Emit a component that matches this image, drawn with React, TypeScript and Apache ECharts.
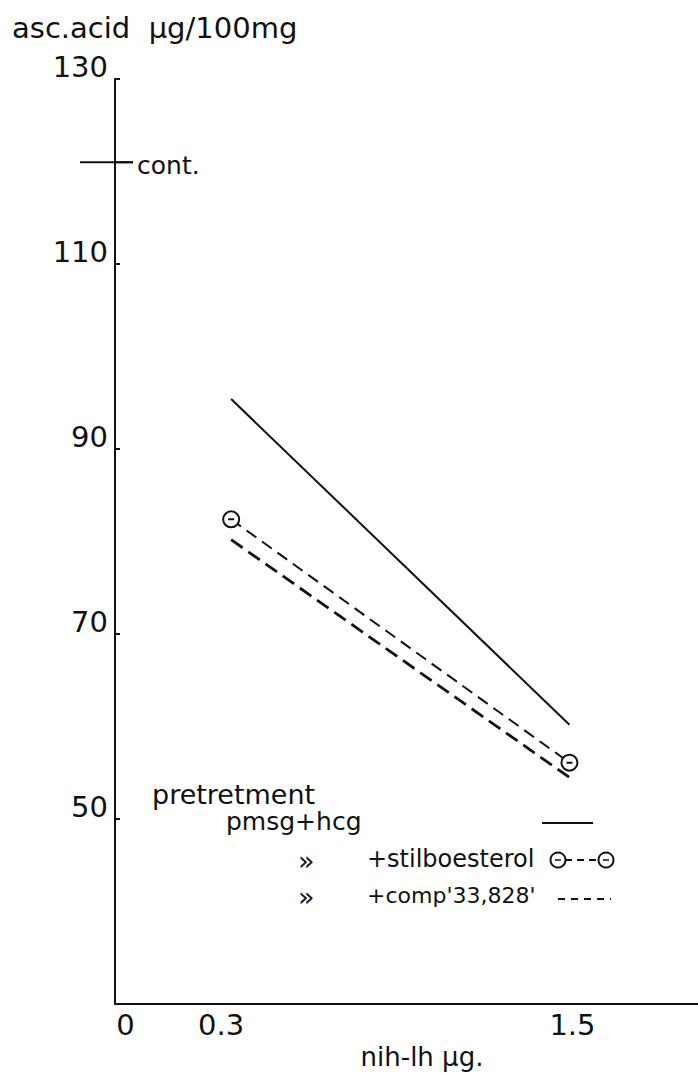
import React, { useEffect, useRef } from "react";
import * as echarts from "echarts";

// ---- data ----
const doses = [0.3, 1.5]; // nih-lh µg
const pmsgHcg = [95.4, 60.2];
const stilboesterol = [82.4, 56.1];
const comp33828 = [80.2, 54.5];
const controlLevel = 121;
const controlSpan = [-0.236, -0.048]; // short "cont." marker across the y axis

const yTicks = [50, 70, 90, 110, 130];
const xTicks = [0, 0.3, 1.5];
const xTickLabels = ["0", "0.3", "1.5"];
const xTickRich = ["z", "t", "f"];

const legendRows = {
  header: "pretretment",
  solid: "pmsg+hcg",
  ditto: "»",
  stilb: "+stilboesterol",
  comp: "+comp'33,828'",
};

const FONT = '"DejaVu Sans", sans-serif';
const INK = "#111";

const symbolPath = "path://M0,8A8,8 0 1 1 16,8A8,8 0 1 1 0,8ZM5,8L11,8";

export default function App() {
  const ref = useRef<HTMLDivElement>(null);
  useEffect(() => {
    if (!ref.current) return;
    const chart = echarts.init(ref.current, undefined, { renderer: "svg" });
    const pair = (vals: number[]) => doses.map((d, i) => [d, vals[i]]);
    const txt = (text: string, x: number, y: number, size: number) => ({
      type: "text",
      x,
      y,
      style: { text, fill: INK, font: `${size}px ${FONT}`, verticalAlign: "middle", align: "left" },
    });
    const legendGraphics: any[] = [
      txt(legendRows.header, 152, 794, 27),
      txt(legendRows.solid, 226, 821, 25),
      txt(legendRows.ditto, 298, 860, 27),
      txt(legendRows.stilb, 367, 859, 24),
      txt(legendRows.ditto, 298, 896, 27),
      txt(legendRows.comp, 367, 895, 22),
      { type: "line", shape: { x1: 542, y1: 823, x2: 593, y2: 823 }, style: { stroke: INK, lineWidth: 2 } },
      { type: "line", shape: { x1: 565, y1: 860, x2: 598, y2: 860 }, style: { stroke: INK, lineWidth: 2, lineDash: [7, 5] } },
      { type: "circle", shape: { cx: 558, cy: 860, r: 7.5 }, style: { fill: "#fff", stroke: INK, lineWidth: 2 } },
      { type: "line", shape: { x1: 555, y1: 860, x2: 561, y2: 860 }, style: { stroke: INK, lineWidth: 1.5 } },
      { type: "circle", shape: { cx: 606, cy: 860, r: 7.5 }, style: { fill: "#fff", stroke: INK, lineWidth: 2 } },
      { type: "line", shape: { x1: 603, y1: 860, x2: 609, y2: 860 }, style: { stroke: INK, lineWidth: 1.5 } },
      { type: "line", shape: { x1: 558, y1: 899, x2: 611, y2: 899 }, style: { stroke: INK, lineWidth: 2, lineDash: [7, 6] } },
    ];
    chart.setOption({
      animation: false,
      backgroundColor: "#fff",
      title: {
        text: "asc.acid  µg/100mg",
        left: 12,
        top: 13,
        padding: 0,
        textStyle: { fontFamily: FONT, fontSize: 29, fontWeight: "normal", color: INK },
      },
      grid: { left: 115, right: 0, top: 79, bottom: 63, containLabel: false },
      xAxis: {
        type: "value",
        min: -0.112,
        max: 1.956,
        name: "nih-lh µg.",
        nameLocation: "middle",
        nameGap: 22,
        nameTextStyle: { fontFamily: FONT, fontSize: 26, color: INK, padding: [0, 0, 0, 31] },
        axisLine: { show: true, onZero: false, lineStyle: { color: INK, width: 2 } },
        axisTick: { show: false },
        splitLine: { show: false },
        axisLabel: {
          customValues: xTicks,
          margin: 6,
          fontFamily: FONT,
          fontSize: 29,
          color: INK,
          formatter: (v: number) => {
            const i = xTicks.indexOf(v);
            return i < 0 ? "" : `{${xTickRich[i]}|${xTickLabels[i]}}`;
          },
          rich: {
            z: { fontFamily: FONT, fontSize: 29, color: INK, padding: [0, 42, 0, 0] },
            t: { fontFamily: FONT, fontSize: 29, color: INK, padding: [0, 20, 0, 0] },
            f: { fontFamily: FONT, fontSize: 29, color: INK, padding: [0, 0, 0, 6] },
          },
        },
      },
      yAxis: {
        type: "value",
        min: 30,
        max: 130,
        axisLine: { show: true, onZero: false, lineStyle: { color: INK, width: 2 } },
        axisTick: { show: true, inside: true, length: 5, customValues: yTicks, lineStyle: { color: INK, width: 2 } },
        splitLine: { show: false },
        axisLabel: {
          customValues: yTicks,
          margin: 7,
          fontFamily: FONT,
          fontSize: 29,
          color: INK,
          verticalAlign: "bottom",
          lineHeight: 24,
        },
      },
      series: [
        {
          name: "cont.",
          type: "line",
          clip: false,
          data: controlSpan.map((x) => [x, controlLevel]),
          symbol: "none",
          lineStyle: { color: INK, width: 2 },
          endLabel: {
            show: true,
            distance: 4,
            offset: [0, 3],
            fontFamily: FONT,
            fontSize: 25,
            color: INK,
            formatter: "cont.",
          },
        },
        {
          name: "pmsg+hcg",
          type: "line",
          data: pair(pmsgHcg),
          symbol: "none",
          lineStyle: { color: INK, width: 2 },
        },
        {
          name: "+stilboesterol",
          type: "line",
          data: pair(stilboesterol),
          symbol: symbolPath,
          symbolSize: 16,
          itemStyle: { color: "#fff", borderColor: INK, borderWidth: 2 },
          lineStyle: { color: INK, width: 2, type: [12, 7] },
          z: 3,
        },
        {
          name: "+comp'33,828'",
          type: "line",
          data: pair(comp33828),
          symbol: "none",
          lineStyle: { color: INK, width: 2.8, type: [14, 7] },
        },
      ],
      graphic: legendGraphics,
    });
    // the control marker crosses the y axis, outside the grid: place it through the axes' scales
    const p0 = chart.convertToPixel({ gridIndex: 0 }, [controlSpan[0], controlLevel]) as number[];
    const p1 = chart.convertToPixel({ gridIndex: 0 }, [controlSpan[1], controlLevel]) as number[];
    if (p0 && p1) {
      chart.setOption({
        graphic: [
          ...legendGraphics,
          {
            type: "line",
            shape: { x1: p0[0], y1: p0[1], x2: p1[0], y2: p1[1] },
            style: { stroke: INK, lineWidth: 2 },
          },
        ],
      });
    }
    return () => chart.dispose();
  }, []);
  return (
    <div
      ref={ref}
      style={{ position: "absolute", left: 0, top: 0, width: 698, height: 1075, background: "#fff" }}
    />
  );
}
